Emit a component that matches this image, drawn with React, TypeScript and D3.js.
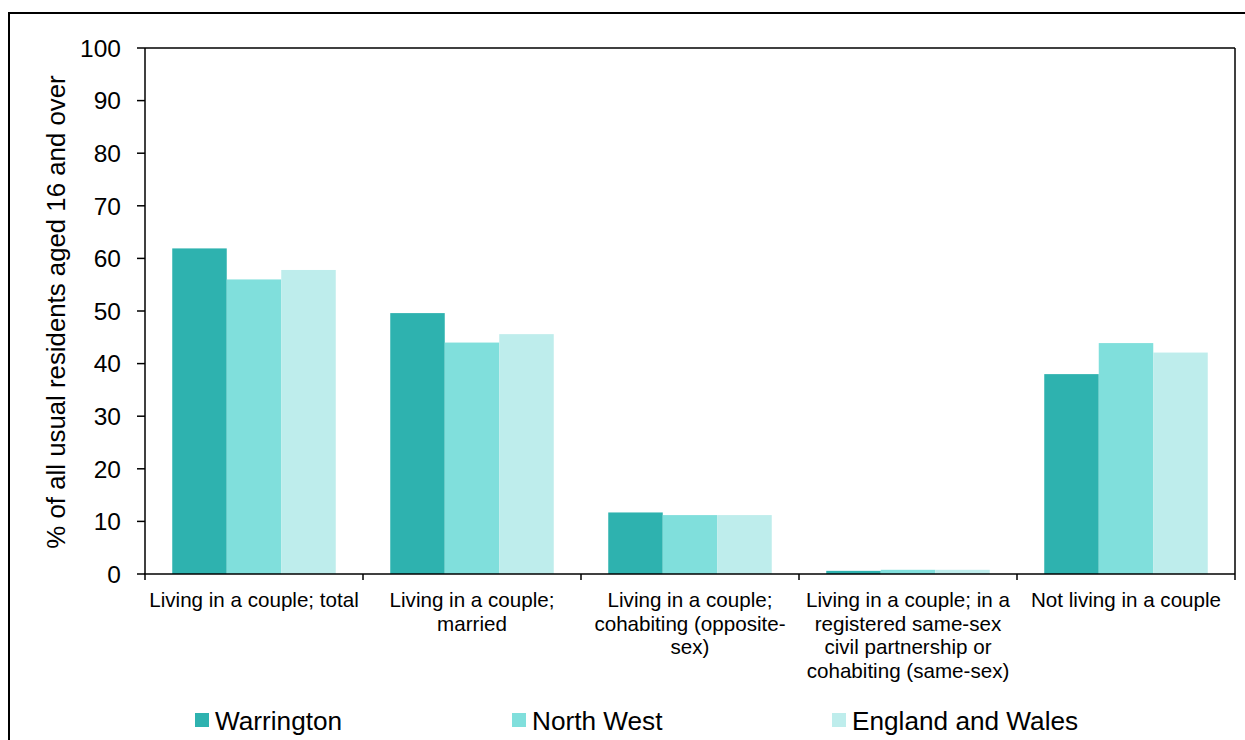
import React from "react";
import * as d3 from "d3";

const categories: string[][] = [
  ["Living in a couple; total"],
  ["Living in a couple;", "married"],
  ["Living in a couple;", "cohabiting (opposite-", "sex)"],
  ["Living in a couple; in a", "registered same-sex", "civil partnership or", "cohabiting (same-sex)"],
  ["Not living in a couple"],
];
const seriesNames = ["Warrington", "North West", "England and Wales"];
const warrington = [61.9, 49.6, 11.7, 0.6, 38.0];
const northWest = [56.0, 44.0, 11.2, 0.8, 43.9];
const englandWales = [57.8, 45.6, 11.2, 0.8, 42.1];
const colors = ["#2EB2AF", "#80DFDC", "#BEEDEC"];
const yTicks = [0, 10, 20, 30, 40, 50, 60, 70, 80, 90, 100];

const W = 1245;
const H = 740;
const plot = { left: 145, right: 1235, top: 48, bottom: 574 };
const font = "Arial, 'Liberation Sans', sans-serif";

export default function App() {
  const series = [warrington, northWest, englandWales];
  const x = d3
    .scaleBand<number>()
    .domain(d3.range(categories.length))
    .range([plot.left, plot.right])
    .paddingInner(0)
    .paddingOuter(0);
  const inner = d3
    .scaleBand<number>()
    .domain(d3.range(series.length))
    .range([0, x.bandwidth()])
    .paddingOuter(0.5)
    .paddingInner(0);
  const y = d3.scaleLinear().domain([0, 100]).range([plot.bottom, plot.top]);

  const boundaries = d3.range(categories.length + 1).map((i) =>
    i < categories.length ? (x(i) as number) : plot.right
  );

  const legendX = [195, 512, 832];

  return (
    <svg
      width={W}
      height={H}
      style={{ position: "absolute", left: 0, top: 0, background: "#fff" }}
      fontFamily={font}
    >
      <rect x={0} y={0} width={W} height={H} fill="#fff" />
      <rect x={9} y={13} width={W + 20} height={H + 20} fill="none" stroke="#000" strokeWidth={2} />
      {/* bars */}
      {series.map((vals, s) =>
        vals.map((v, i) => {
          const bx = (x(i) as number) + (inner(s) as number);
          return (
            <rect
              key={`${s}-${i}`}
              x={bx}
              y={y(v)}
              width={inner.bandwidth()}
              height={plot.bottom - y(v)}
              fill={colors[s]}
            />
          );
        })
      )}
      {/* plot border */}
      <line x1={plot.left} x2={plot.right} y1={plot.top} y2={plot.top} stroke="#000" strokeWidth={1.5} />
      <line x1={plot.right} x2={plot.right} y1={plot.top} y2={plot.bottom} stroke="#000" strokeWidth={1.5} />
      <line x1={plot.left} x2={plot.left} y1={plot.top} y2={plot.bottom} stroke="#000" strokeWidth={1.5} />
      <line x1={plot.left - 1} x2={plot.right} y1={plot.bottom} y2={plot.bottom} stroke="#000" strokeWidth={1.5} />
      {/* y ticks */}
      {yTicks.map((t) => (
        <g key={t}>
          <line x1={plot.left - 8} x2={plot.left} y1={y(t)} y2={y(t)} stroke="#000" strokeWidth={1.5} />
          <text x={121} y={y(t)} dy="0.36em" textAnchor="end" fontSize={24.5} fill="#000">
            {t}
          </text>
        </g>
      ))}
      {/* x ticks */}
      {boundaries.map((b, i) => (
        <line key={i} x1={b} x2={b} y1={plot.bottom} y2={plot.bottom + 6} stroke="#000" strokeWidth={1.5} />
      ))}
      {/* category labels */}
      {categories.map((lines, i) => (
        <text
          key={i}
          x={(x(i) as number) + x.bandwidth() / 2}
          y={607}
          textAnchor="middle"
          fontSize={20.6}
          fill="#000"
        >
          {lines.map((l, j) => (
            <tspan key={j} x={(x(i) as number) + x.bandwidth() / 2} dy={j === 0 ? 0 : 23.7}>
              {l}
            </tspan>
          ))}
        </text>
      ))}
      {/* y title */}
      <text
        transform={`translate(65, ${(plot.top + plot.bottom) / 2 + 1}) rotate(-90)`}
        textAnchor="middle"
        fontSize={25.8}
        fill="#000"
      >
        % of all usual residents aged 16 and over
      </text>
      {/* legend */}
      {seriesNames.map((n, s) => (
        <g key={n}>
          <rect x={legendX[s]} y={713} width={14} height={14} fill={colors[s]} />
          <text x={legendX[s] + 20} y={729.5} fontSize={26.2} fill="#000">
            {n}
          </text>
        </g>
      ))}
    </svg>
  );
}
